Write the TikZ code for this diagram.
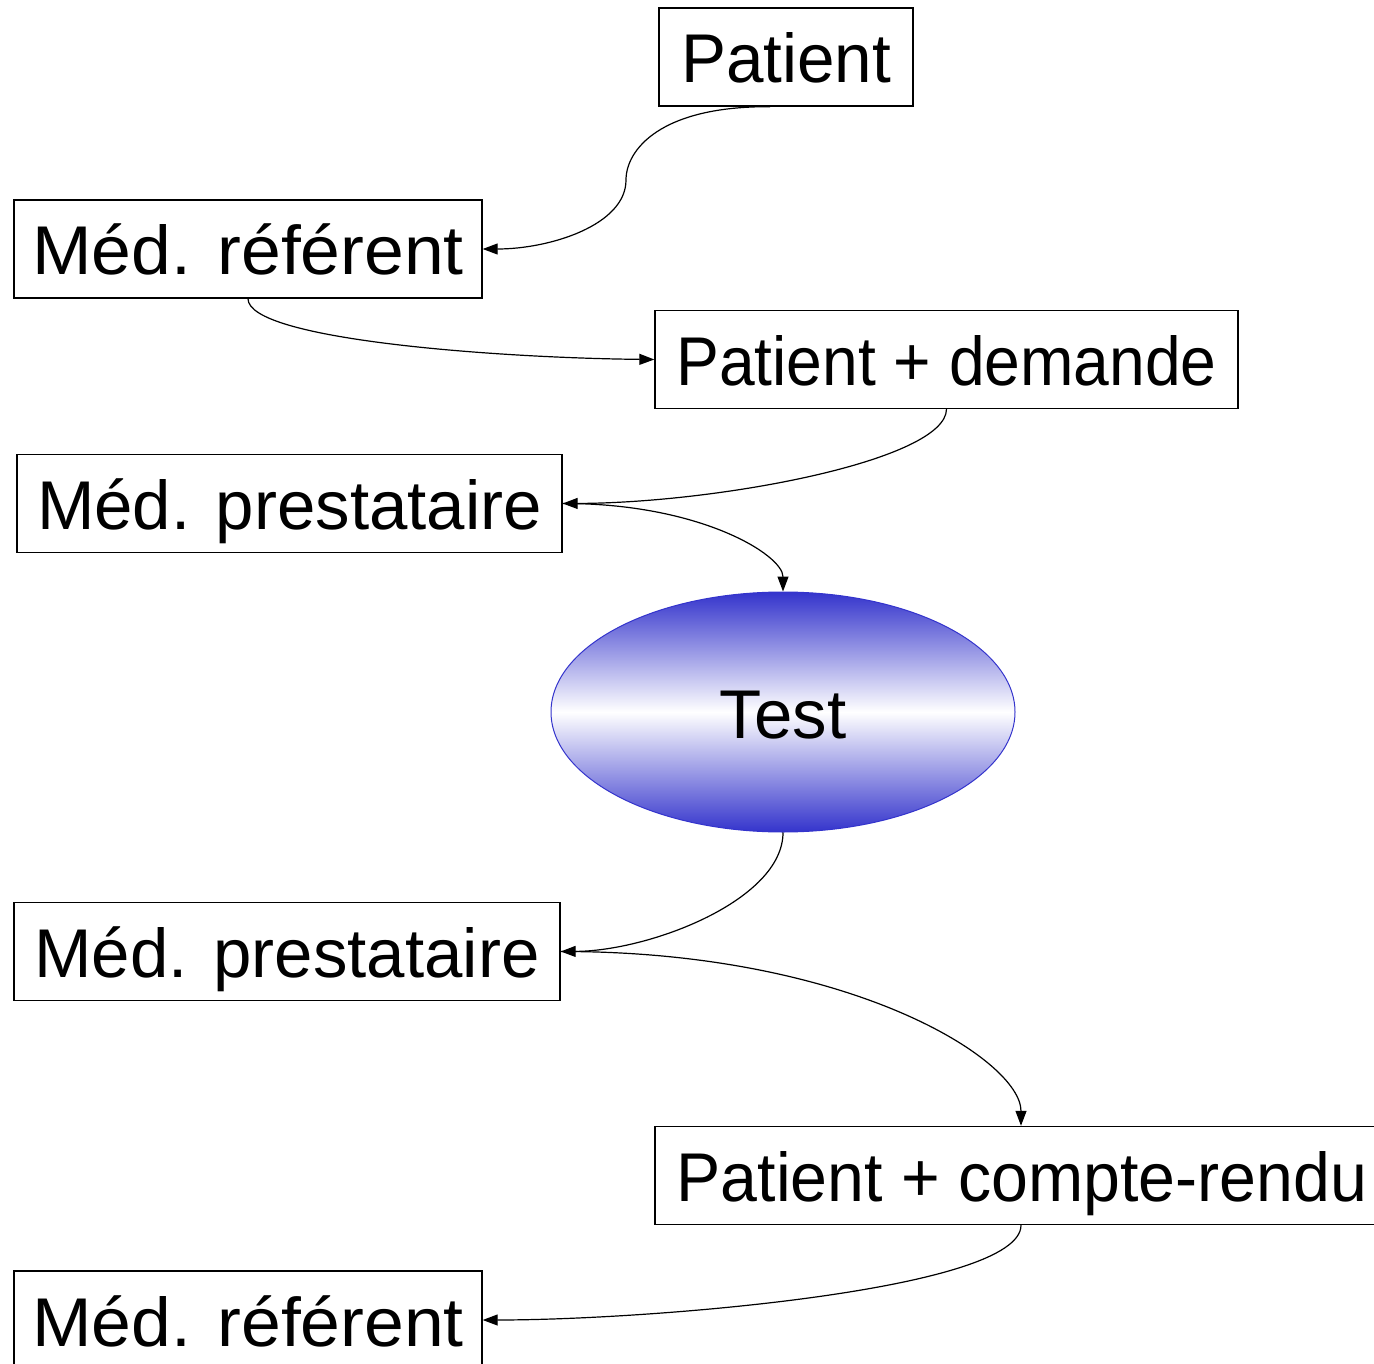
\documentclass[tikz,border=0pt]{standalone}
\usepackage{fontspec}
\setmainfont{Liberation Sans}
\usetikzlibrary{shapes.geometric,arrows.meta}
\definecolor{tblue}{RGB}{52,52,204}
\begin{document}
\begin{tikzpicture}[x=1pt,y=-1pt,
  box/.style={draw,line width=1.4pt,inner sep=0pt,minimum height=98pt,
    text height=52pt,text depth=0pt,font=\fontsize{69}{80}\selectfont},
  conn/.style={line width=1.2pt,-{Triangle[length=15pt,width=11pt]}}]
\useasboundingbox (0,0) rectangle (1374,1364);
\node[box,minimum width=254pt] (p1) at (786,57) {\scalebox{0.977}[1]{Patient}};
\node[box,minimum width=468pt] (mr1) at (248,249) {\scalebox{1.036}[1]{Méd. référent}};
\node[box,minimum width=583pt] (pd) at (946.5,359.5) {\scalebox{0.93}[1]{Patient + demande}};
\node[box,minimum width=545pt] (mp1) at (289.5,503.5) {Méd. prestataire};
\node[ellipse,draw=tblue,line width=1pt,minimum width=464pt,minimum height=240pt,
  top color=tblue,bottom color=tblue,middle color=white,inner sep=0pt,
  text height=52pt,text depth=0pt,font=\fontsize{69}{80}\selectfont] (test) at (783,712) {Test};
\node[box,minimum width=734pt] (pc) at (1022,1175.5) {\scalebox{0.96}[1]{Patient + compte-rendu}};
\node[box,minimum width=546pt] (mp2) at (287,951.5) {Méd. prestataire};
\node[box,minimum width=468pt] (mr2) at (248,1320) {\scalebox{1.036}[1]{Méd. référent}};
\draw[conn] ([xshift=-16pt]p1.south) .. controls (660,106) and (626,150) .. (626,180)
  .. controls (626,225) and (550,249) .. (mr1.east);
\draw[conn] (mr1.south) .. controls (248,340) and (500,358) .. (pd.west);
\draw[conn] (pd.south) .. controls (946,460) and (720,503) .. (mp1.east);
\draw[conn] (mp1.east) .. controls (700,503) and (783,555) .. (test.north);
\draw[conn] (test.south) .. controls (783,900) and (650,951) .. (mp2.east);
\draw[conn] (mp2.east) .. controls (850,951) and (1021,1060) .. ([xshift=-1pt]pc.north);
\draw[conn] ([xshift=-1pt]pc.south) .. controls (1021,1290) and (650,1320) .. (mr2.east);
\end{tikzpicture}
\end{document}
